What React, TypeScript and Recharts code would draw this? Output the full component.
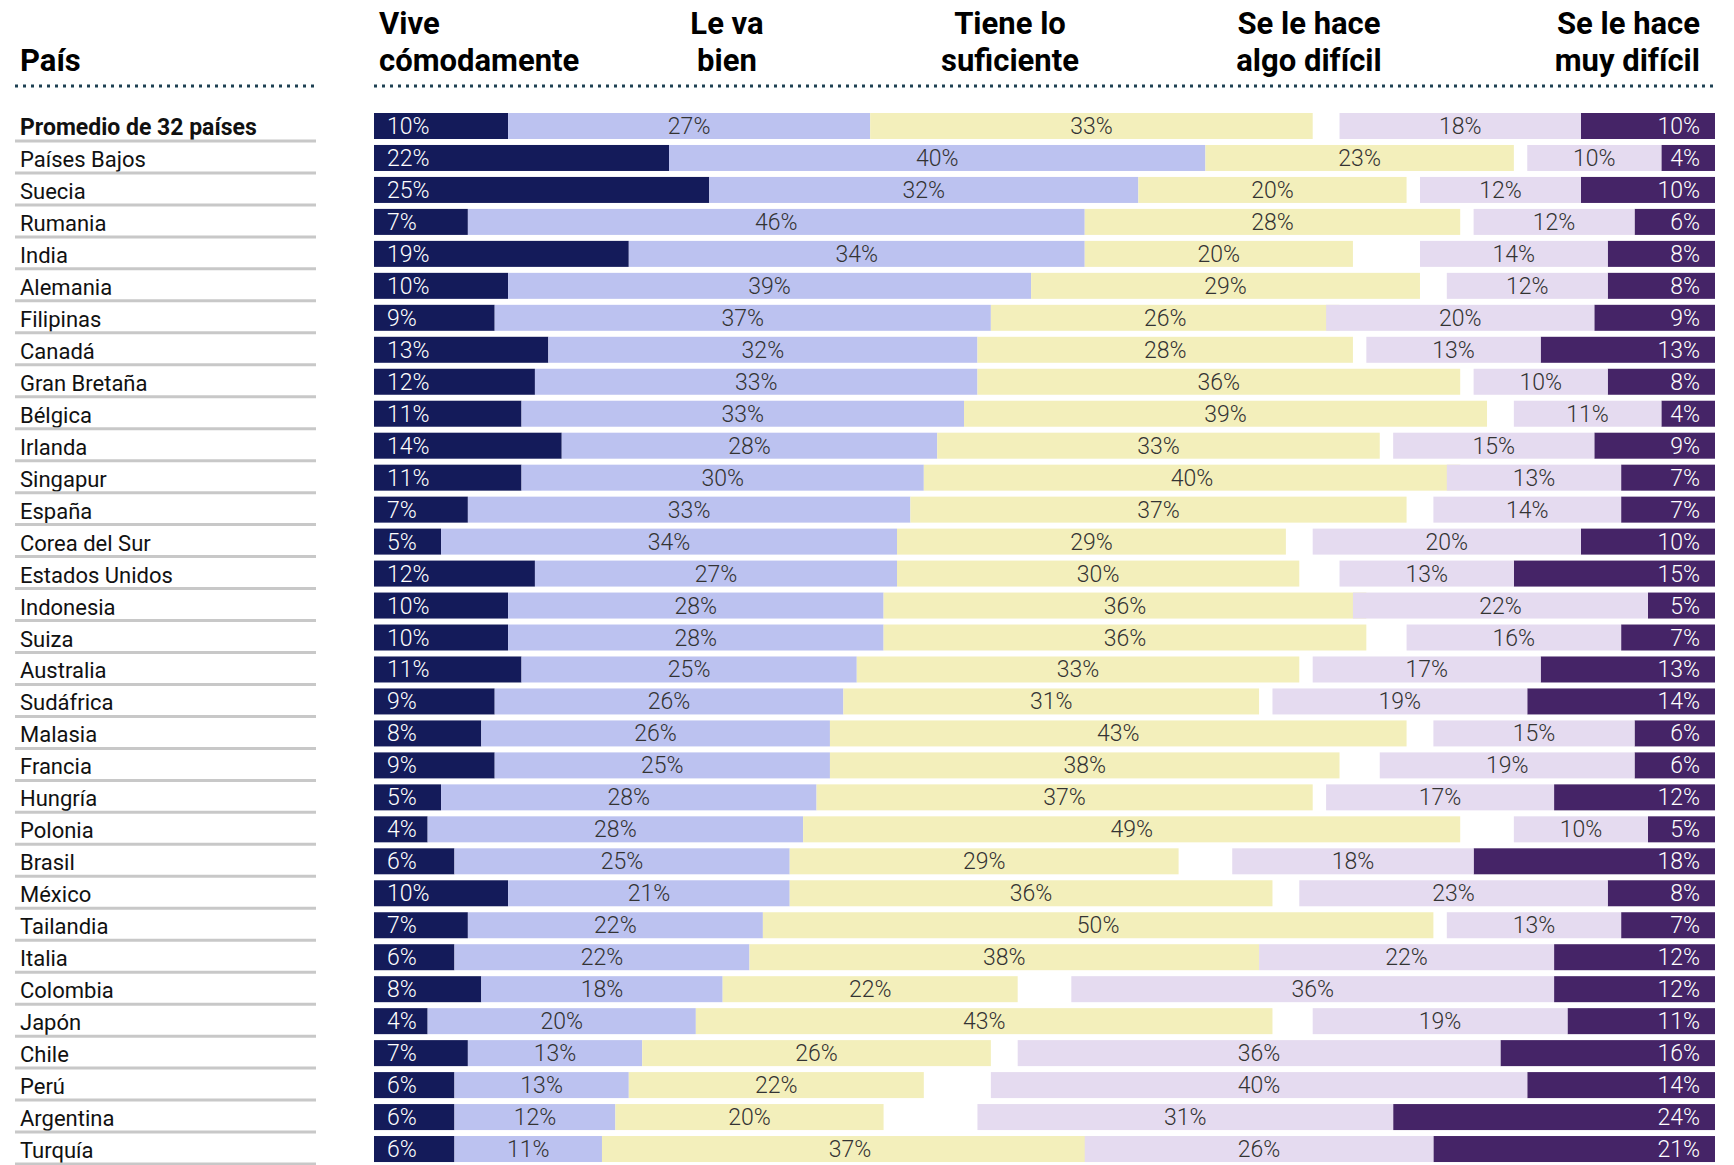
import React from "react";
import { BarChart, Bar, XAxis, YAxis } from "recharts";

const countries = [
  "Promedio de 32 países",
  "Países Bajos",
  "Suecia",
  "Rumania",
  "India",
  "Alemania",
  "Filipinas",
  "Canadá",
  "Gran Bretaña",
  "Bélgica",
  "Irlanda",
  "Singapur",
  "España",
  "Corea del Sur",
  "Estados Unidos",
  "Indonesia",
  "Suiza",
  "Australia",
  "Sudáfrica",
  "Malasia",
  "Francia",
  "Hungría",
  "Polonia",
  "Brasil",
  "México",
  "Tailandia",
  "Italia",
  "Colombia",
  "Japón",
  "Chile",
  "Perú",
  "Argentina",
  "Turquía",
];

const vive = [10, 22, 25, 7, 19, 10, 9, 13, 12, 11, 14, 11, 7, 5, 12, 10, 10, 11, 9, 8, 9, 5, 4, 6, 10, 7, 6, 8, 4, 7, 6, 6, 6];
const bien = [27, 40, 32, 46, 34, 39, 37, 32, 33, 33, 28, 30, 33, 34, 27, 28, 28, 25, 26, 26, 25, 28, 28, 25, 21, 22, 22, 18, 20, 13, 13, 12, 11];
const suficiente = [33, 23, 20, 28, 20, 29, 26, 28, 36, 39, 33, 40, 37, 29, 30, 36, 36, 33, 31, 43, 38, 37, 49, 29, 36, 50, 38, 22, 43, 26, 22, 20, 37];
const algoDificil = [18, 10, 12, 12, 14, 12, 20, 13, 10, 11, 15, 13, 14, 20, 13, 22, 16, 17, 19, 15, 19, 17, 10, 18, 23, 13, 22, 36, 19, 36, 40, 31, 26];
const muyDificil = [10, 4, 10, 6, 8, 8, 9, 13, 8, 4, 9, 7, 7, 10, 15, 5, 7, 13, 14, 6, 6, 12, 5, 18, 8, 7, 12, 12, 11, 16, 14, 24, 21];

const data = countries.map((country, i) => ({
  country,
  vive: vive[i],
  bien: bien[i],
  suficiente: suficiente[i],
  algo: algoDificil[i],
  muy: muyDificil[i],
}));

const FONT = "Roboto, 'Noto Sans', sans-serif";
const LINE = "#1d4052";

// builds a bar shape that also writes its own percentage
function segment(key: string, fill: string, textColor: string, align: "start" | "middle" | "end") {
  return (props: any) => {
    const { x, y, width, height, payload } = props;
    const left = Math.min(x, x + width);
    const w = Math.abs(width);
    let tx = left + w / 2;
    if (align === "start") tx = left + 13;
    if (align === "end") tx = left + w - 15;
    return (
      <g>
        <rect x={left} y={y} width={w} height={height} fill={fill} />
        <text
          x={tx}
          y={y + height / 2 + 8}
          textAnchor={align}
          fill={textColor}
          fontSize={23}
          fontFamily={FONT}
          fontWeight={300}
        >
          {payload[key]}%
        </text>
      </g>
    );
  };
}

function CountryTick(props: any) {
  const { y, payload } = props;
  const bold = payload.value === countries[0];
  return (
    <g>
      <text
        x={20}
        y={y + 9}
        fontSize={bold ? 23 : 22}
        fontFamily={FONT}
        fontWeight={bold ? 700 : 400}
        fill="#111"
      >
        {payload.value}
      </text>
      <line x1={15} x2={316} y1={y + 15} y2={y + 15} stroke="#c8c8c8" strokeWidth={3} />
    </g>
  );
}

const headerStyle: React.CSSProperties = {
  position: "absolute",
  top: 5,
  fontFamily: FONT,
  fontWeight: 700,
  fontSize: 31,
  lineHeight: "37px",
  color: "#000",
  whiteSpace: "nowrap",
};

export default function App() {
  return (
    <div style={{ position: "absolute", left: 0, top: 0, width: 1734, height: 1165, background: "#fff" }}>
      <div style={{ ...headerStyle, top: 42, left: 20 }}>País</div>
      <div style={{ ...headerStyle, left: 379 }}>
        Vive
        <br />
        cómodamente
      </div>
      <div style={{ ...headerStyle, left: 727, transform: "translateX(-50%)", textAlign: "center" }}>
        Le va
        <br />
        bien
      </div>
      <div style={{ ...headerStyle, left: 1010, transform: "translateX(-50%)", textAlign: "center" }}>
        Tiene lo
        <br />
        suficiente
      </div>
      <div style={{ ...headerStyle, left: 1309, transform: "translateX(-50%)", textAlign: "center" }}>
        Se le hace
        <br />
        algo difícil
      </div>
      <div style={{ ...headerStyle, right: 34, textAlign: "right" }}>
        Se le hace
        <br />
        muy difícil
      </div>
      <svg width={1734} height={100} style={{ position: "absolute", left: 0, top: 0 }}>
        <line x1={15} x2={316} y1={86} y2={86} stroke={LINE} strokeWidth={3} strokeDasharray="3 5" />
        <line x1={374} x2={1715} y1={86} y2={86} stroke={LINE} strokeWidth={3} strokeDasharray="3 5" />
      </svg>
      <div style={{ position: "absolute", left: 0, top: 0 }}>
        <BarChart
          width={1734}
          height={1165}
          data={data}
          layout="vertical"
          margin={{ top: 110, right: 19, bottom: 0, left: 0 }}
        >
          <XAxis xAxisId="l" type="number" domain={[0, 100]} hide />
          <XAxis xAxisId="r" type="number" domain={[0, 100]} reversed hide />
          <YAxis
            yAxisId="l"
            type="category"
            dataKey="country"
            width={374}
            axisLine={false}
            tickLine={false}
            interval={0}
            tick={<CountryTick />}
          />
          <YAxis yAxisId="r" type="category" dataKey="country" hide />
          <Bar xAxisId="l" yAxisId="l" stackId="left" dataKey="vive" barSize={26} isAnimationActive={false}
            shape={segment("vive", "#141b5a", "#fff", "start")} />
          <Bar xAxisId="l" yAxisId="l" stackId="left" dataKey="bien" barSize={26} isAnimationActive={false}
            shape={segment("bien", "#bcc2f0", "#333", "middle")} />
          <Bar xAxisId="l" yAxisId="l" stackId="left" dataKey="suficiente" barSize={26} isAnimationActive={false}
            shape={segment("suficiente", "#f3efbb", "#333", "middle")} />
          <Bar xAxisId="r" yAxisId="r" stackId="right" dataKey="muy" barSize={26} isAnimationActive={false}
            shape={segment("muy", "#452467", "#fff", "end")} />
          <Bar xAxisId="r" yAxisId="r" stackId="right" dataKey="algo" barSize={26} isAnimationActive={false}
            shape={segment("algo", "#e5dbf0", "#333", "middle")} />
        </BarChart>
      </div>
    </div>
  );
}
